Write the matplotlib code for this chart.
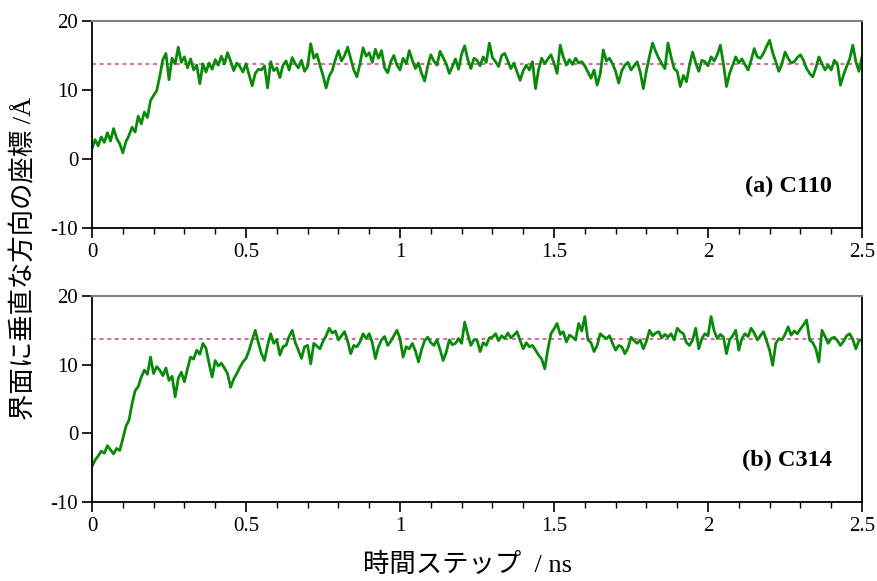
import numpy as np
import matplotlib
matplotlib.use("Agg")
import matplotlib.pyplot as plt
from matplotlib.ticker import MultipleLocator, FormatStrFormatter

plt.rcParams['font.family'] = ['Liberation Serif', 'Noto Sans CJK JP']
plt.rcParams['axes.unicode_minus'] = False

# 時間軸 (ns), 0.01 ns ごと
t = np.arange(251) * 0.01

# (a) C110
z_a = [
    1.5, 2.8, 1.9, 3.2, 2.4, 3.8, 2.6, 4.4, 3.0, 2.2,
    0.9, 2.5, 3.4, 4.6, 3.9, 6.2, 5.1, 6.8, 6.0, 8.5,
    9.2, 9.9, 12.0, 14.4, 15.3, 11.5, 14.6, 13.8, 16.2, 14.0,
    14.8, 13.2, 14.5, 12.9, 13.6, 10.9, 13.8, 12.6, 13.9, 13.0,
    14.4, 13.6, 14.9, 13.8, 15.4, 14.2, 12.8, 13.9, 13.4, 12.6,
    13.8, 12.2, 10.6, 12.4, 13.0, 12.9, 13.5, 10.3, 14.1, 12.8,
    13.2, 11.8, 13.6, 14.2, 12.9, 14.7, 13.8, 13.2, 14.3, 12.7,
    13.4, 16.7, 14.6, 15.2, 13.6, 12.1, 10.3, 12.0, 12.8, 14.4,
    15.7, 14.2, 15.0, 16.2, 14.5, 12.9, 11.9, 13.8, 16.1, 14.9,
    15.4, 14.0, 15.9, 14.6, 15.7, 13.2, 12.5, 14.1, 15.0, 13.6,
    12.9, 14.6, 13.8, 15.7, 14.3, 13.1, 13.9, 12.4, 11.3, 13.5,
    15.1, 14.2, 13.6, 15.6, 14.7, 13.8, 12.4, 13.4, 14.5, 13.0,
    15.2, 16.4, 14.4, 13.1, 14.6, 14.3, 13.5, 14.8, 14.0, 16.8,
    14.7, 14.1, 13.4, 15.0, 15.3, 14.2, 13.1, 13.9, 12.6, 11.4,
    12.8, 13.6, 12.9, 14.1, 10.2, 13.0, 14.6, 13.8, 14.5, 15.1,
    13.9, 12.4, 16.5, 14.8, 13.6, 14.4, 13.7, 14.6, 13.9, 14.1,
    13.5, 12.6, 11.7, 12.9, 10.7, 12.3, 15.8, 14.2, 14.6, 13.8,
    12.7, 11.0, 12.8, 13.6, 14.0, 12.9, 13.5, 14.1, 12.6, 10.2,
    12.8, 14.9, 16.8, 15.6, 14.6, 13.8, 13.1, 16.8, 14.8, 13.1,
    12.7, 10.5, 12.1, 11.2, 13.6, 15.5, 13.9, 12.7, 14.3, 14.1,
    13.5, 14.8, 14.2, 15.1, 16.5, 13.8, 10.5, 12.4, 13.6, 14.8,
    13.9, 14.5, 13.7, 12.9, 14.3, 16.0, 14.8, 14.6, 15.3, 16.3,
    17.2, 15.4, 14.1, 12.7, 13.8, 15.5, 14.6, 13.9, 14.1, 14.7,
    15.1, 14.3, 13.1, 12.4, 11.9, 13.2, 14.8, 13.8, 12.9, 13.6,
    12.9, 14.3, 13.8, 10.7, 12.2, 13.4, 14.5, 16.5, 14.1, 12.7,
    14.8,
]

# (b) C314
z_b = [
    -4.8, -3.9, -3.3, -2.6, -2.9, -1.8, -2.4, -3.0, -2.2, -2.5,
    -0.8, 1.0, 1.9, 4.3, 6.2, 6.8, 8.2, 9.2, 8.6, 11.1,
    8.7, 9.7, 9.2, 8.4, 9.5, 7.7, 8.3, 5.3, 8.0, 8.9,
    7.5, 9.4, 11.1, 10.8, 12.1, 11.5, 13.1, 12.4, 10.2, 8.2,
    10.6, 9.8, 10.2, 9.5, 8.7, 6.7, 7.9, 8.7, 9.6, 10.4,
    10.9, 12.1, 13.6, 15.0, 13.2, 11.6, 10.6, 12.8, 14.5, 13.1,
    13.6, 11.4, 12.6, 12.8, 14.1, 15.0, 13.2, 12.1, 10.9, 12.6,
    12.8, 10.1, 13.1, 12.7, 12.3, 13.4, 14.2, 15.3, 14.6, 14.9,
    13.6, 14.2, 14.8, 13.4, 11.6, 12.8, 12.6, 13.3, 14.5, 13.8,
    14.5, 13.2, 10.9, 12.6, 13.6, 14.1, 12.8, 13.4, 14.2, 15.0,
    13.8, 11.1, 12.6, 12.3, 13.1, 12.0, 10.4, 12.2, 13.5, 14.0,
    13.2, 12.8, 13.6, 12.2, 10.6, 11.8, 13.6, 12.9, 13.1, 13.8,
    13.1, 16.2, 14.4, 12.8, 13.6, 13.6, 11.9, 13.2, 12.8, 13.9,
    14.0, 14.5, 13.5, 14.2, 13.8, 14.6, 13.9, 14.3, 14.8, 13.5,
    12.3, 13.2, 12.6, 12.8, 12.1, 11.4, 10.8, 9.4, 12.2, 14.5,
    15.2, 16.0, 14.4, 14.8, 13.3, 14.3, 14.0, 13.6, 16.0, 14.9,
    17.0, 13.6, 13.2, 11.9, 12.8, 14.5, 14.1, 13.8, 14.2, 13.1,
    12.1, 12.8, 12.6, 11.6, 12.4, 14.0, 13.5, 13.1, 13.6, 12.3,
    13.4, 15.0, 14.2, 14.6, 14.8, 13.9, 14.4, 14.0, 14.5, 13.6,
    15.3, 14.8, 14.5, 13.2, 12.8, 13.6, 15.3, 12.3, 13.8, 14.5,
    14.2, 17.0, 14.9, 13.8, 14.4, 14.0, 11.6, 13.6, 14.2, 15.0,
    12.1, 13.8, 14.5, 14.1, 15.3, 14.6, 13.6, 14.2, 14.8, 13.5,
    12.1, 9.9, 13.1, 13.8, 13.6, 14.4, 15.5, 14.3, 14.9, 14.5,
    15.2, 15.8, 16.5, 13.6, 13.2, 12.3, 10.4, 15.0, 14.1, 13.1,
    13.8, 14.0, 13.5, 12.8, 13.4, 14.2, 14.5, 13.7, 12.3, 13.5,
    13.6,
]

ref_a = 13.8
ref_b = 13.8
labels = ["(a) C110", "(b) C314"]

fig = plt.figure(figsize=(8.78, 5.81), dpi=100)
ax1 = fig.add_axes([0.1048, 0.6076, 0.877, 0.3563])
ax2 = fig.add_axes([0.1048, 0.1360, 0.877, 0.3546])

for ax, z, ref, lab in [(ax1, z_a, ref_a, labels[0]), (ax2, z_b, ref_b, labels[1])]:
    ax.axhline(ref, color='#d03a7e', lw=1.1, dashes=(2.5, 2.5), zorder=1)
    ax.plot(t, z, color='#0a8a0a', lw=2.0, zorder=2)
    ax.set_xlim(0, 2.5)
    ax.set_ylim(-10, 20)
    ax.xaxis.set_major_locator(MultipleLocator(0.5))
    ax.xaxis.set_minor_locator(MultipleLocator(0.1))
    ax.yaxis.set_major_locator(MultipleLocator(10))
    ax.xaxis.set_major_formatter(FormatStrFormatter('%g'))
    ax.tick_params(which='major', direction='out', length=7, width=1.2, labelsize=15)
    ax.tick_params(which='minor', direction='out', length=4, width=1.0)
    ax.tick_params(axis='y', pad=3)
    for s in ['left', 'bottom', 'right']:
        ax.spines[s].set_linewidth(1.3)
        ax.spines[s].set_color('black')
    ax.spines['top'].set_linewidth(1.5)
    ax.spines['top'].set_color('#808080')
    ax.text(0.961, 0.20, lab, transform=ax.transAxes, ha='right', va='center',
            fontsize=17.5, fontweight='bold')

fig.text(0.027, 0.556, "界面に垂直な方向の座標 /Å", rotation=90, ha='center', va='center',
         fontsize=19)
fig.text(0.533, 0.028, "時間ステップ  / ns", ha='center', va='center', fontsize=19)

fig.savefig("out.png", dpi=100)
